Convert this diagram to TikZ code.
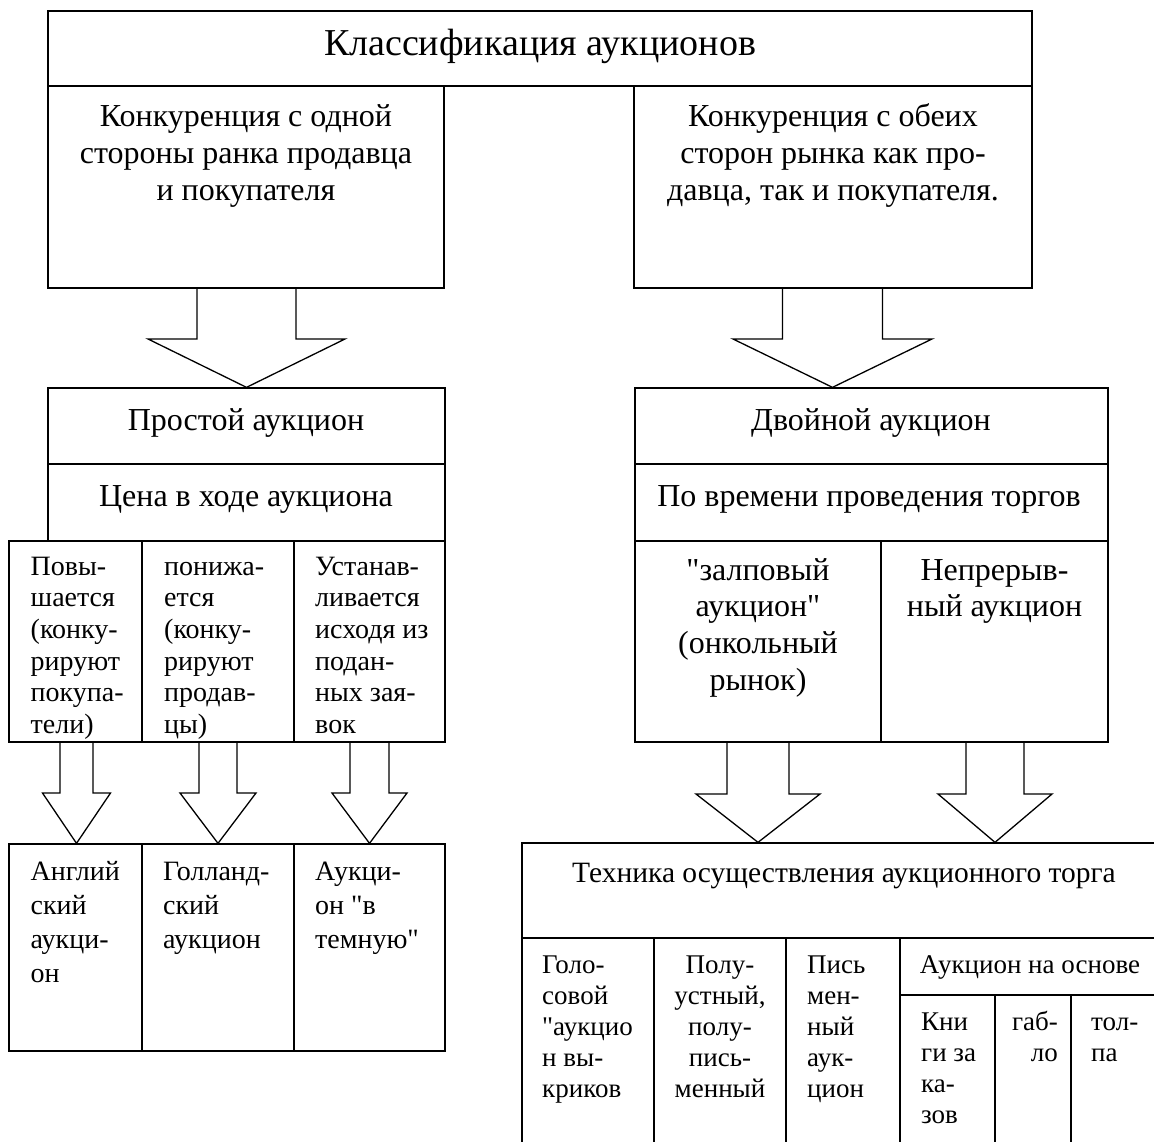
\documentclass[tikz,border=0pt]{standalone}
\usepackage{fontspec}
\setmainfont{Liberation Serif}[Ligatures=TeXOff]
\usetikzlibrary{fit}

% block arrow from the bottom of #1 to the top of #2:
% #3 centre x, #4 half shaft width, #5 half head width, #6 y where the head starts
\newcommand\blockarrow[6]{%
  \draw[bigarrow] (#3-#4,0 |- #1.south) -- (#3-#4,#6) -- (#3-#5,#6)
    -- (#3,0 |- #2.north) -- (#3+#5,#6) -- (#3+#4,#6) -- (#3+#4,0 |- #1.south);}
% fixed height above the first baseline of a text block
\newcommand\tstrut{\rule{0pt}{30pt}}

\begin{document}
\begin{tikzpicture}[x=1pt,y=-1pt,
  cellbox/.style={draw, line width=1.3pt, inner sep=0pt, rectangle},
  bigarrow/.style={draw, line width=1.3pt, line join=miter},
  headline/.style={inner sep=0pt, font=\fontsize{38}{40}\selectfont},
  body/.style={inner sep=0pt, font=\fontsize{32}{37}\selectfont},
  wide/.style={body, font=\fontsize{32}{37}\selectfont},
  tall/.style={body, font=\fontsize{32}{36.7}\selectfont},
  colt/.style={body, font=\fontsize{28}{31.6}\selectfont},
  mid/.style={body, font=\fontsize{28}{34}\selectfont},
  techhead/.style={body, font=\fontsize{29.5}{34}\selectfont},
  narrow/.style={body, font=\fontsize{27}{31}\selectfont}]
\clip (0,0) rectangle (1154,1142);

% ---- top level
\node[cellbox, fit={(48,11) (1032,86)}] (cls) {};
\node[cellbox, fit={(48,86) (444,288)}] (one) {};
\node[cellbox, fit={(634,86) (1032,288)}] (both) {};
\node[headline, anchor=base] (clsT) at (540,56) {Классификация аукционов};
\node[wide, anchor=north, align=center] (oneT) at (246,96)
  {\tstrut Конкуренция с одной\\стороны ранка продавца\\и покупателя};
\node[wide, anchor=north, align=center] (bothT) at (833,96)
  {\tstrut Конкуренция с обеих\\сторон рынка как про-\\давца, так и покупателя.};

% ---- simple auction branch
\node[cellbox, fit={(48,388) (445,464)}] (simple) {};
\node[cellbox, fit={(48,464) (445,541)}] (price) {};
\node[body, anchor=base] (simpleT) at (246,430) {Простой аукцион};
\node[body, anchor=base] (priceT) at (246,506) {Цена в ходе аукциона};

\node[cellbox, fit={(9,541) (142,742)}] (up) {};
\node[cellbox, fit={(142,541) (294,742)}] (down) {};
\node[cellbox, fit={(294,541) (445,742)}] (bids) {};
\node[colt, anchor=north west, align=left] (upT) at (30.5,545)
  {\tstrut Повы-\\шается\\(конку-\\рируют\\покупа-\\тели)};
\node[colt, anchor=north west, align=left] (downT) at (164,545)
  {\tstrut понижа-\\ется\\(конку-\\рируют\\продав-\\цы)};
\node[colt, anchor=north west, align=left] (bidsT) at (315,545)
  {\tstrut Устанав-\\ливается\\исходя из\\подан-\\ных зая-\\вок};

\node[cellbox, fit={(9,844) (142,1051)}] (eng) {};
\node[cellbox, fit={(142,844) (294,1051)}] (dutch) {};
\node[cellbox, fit={(294,844) (445,1051)}] (blind) {};
\node[mid, anchor=north west, align=left] (engT) at (30.5,850)
  {\tstrut Англий\\ский\\аукци-\\он};
\node[mid, anchor=north west, align=left] (dutchT) at (163,850)
  {\tstrut Голланд-\\ский\\аукцион};
\node[mid, anchor=north west, align=left] (blindT) at (315,850)
  {\tstrut Аукци-\\он "в\\темную"};

% ---- double auction branch
\node[cellbox, fit={(635,388) (1108,464)}] (double) {};
\node[cellbox, fit={(635,464) (1108,541)}] (time) {};
\node[body, anchor=base] (doubleT) at (871,430) {Двойной аукцион};
\node[body, anchor=base] (timeT) at (869,506) {По времени проведения торгов};

\node[cellbox, fit={(635,541) (881,742)}] (call) {};
\node[cellbox, fit={(881,541) (1108,742)}] (cont) {};
\node[tall, anchor=north, align=center] (callT) at (758,550)
  {\tstrut "залповый\\аукцион"\\(онкольный\\рынок)};
\node[tall, anchor=north, align=center] (contT) at (994.5,550)
  {\tstrut Непрерыв-\\ный аукцион};

\node[cellbox, fit={(522,843) (1166,938)}] (tech) {};
\node[techhead, anchor=base] (techT) at (844,882) {Техника осуществления аукционного торга};

\node[cellbox, fit={(522,938) (654,1150)}] (voice) {};
\node[cellbox, fit={(654,938) (786,1150)}] (semi) {};
\node[cellbox, fit={(786,938) (900,1150)}] (written) {};
\node[cellbox, fit={(900,938) (1166,995)}] (basis) {};
\node[cellbox, fit={(900,995) (995,1150)}] (book) {};
\node[cellbox, fit={(995,995) (1071,1150)}] (board) {};
\node[cellbox, fit={(1071,995) (1166,1150)}] (crowd) {};

\node[narrow, anchor=north west, align=left] (voiceT) at (542,943)
  {\tstrut Голо-\\совой\\"аукцио\\н вы-\\криков};
\node[narrow, anchor=north, align=center] (semiT) at (720,943)
  {\tstrut Полу-\\устный,\\полу-\\пись-\\менный};
\node[narrow, anchor=north west, align=left] (writtenT) at (807,943)
  {\tstrut Пись\\мен-\\ный\\аук-\\цион};
\node[narrow, anchor=base] (basisT) at (1030,973) {Аукцион на основе};
\node[narrow, anchor=north west, align=left] (bookT) at (921,1000)
  {\tstrut Кни\\ги за\\ка-\\зов};
\node[narrow, anchor=north east, align=right] (boardT) at (1058,1000)
  {\tstrut габ-\\ло};
\node[narrow, anchor=north west, align=left] (crowdT) at (1091,1000)
  {\tstrut тол-\\па};

% ---- block arrows
\blockarrow{one}{simple}{246.5}{49.5}{98.5}{339}
\blockarrow{both}{double}{832.5}{50}{99.5}{339}
\blockarrow{up}{eng}{76.5}{16.5}{34}{793}
\blockarrow{down}{dutch}{218}{19}{38}{793}
\blockarrow{bids}{blind}{369.5}{19.5}{37.5}{793}
\blockarrow{call}{tech}{758}{31}{62}{794}
\blockarrow{cont}{tech}{995}{29}{57}{794}
\end{tikzpicture}
\end{document}
